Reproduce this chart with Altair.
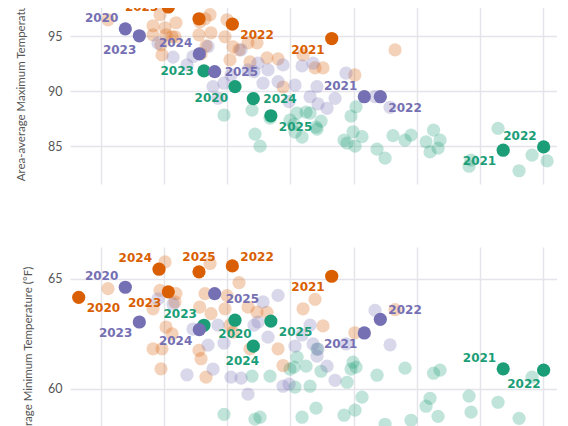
import altair as alt
import pandas as pd

# ---------------- data ----------------
groups = ["Green", "Orange", "Purple"]
colors = ["#1b9e77", "#d95f02", "#7570b3"]
years = [2020, 2021, 2022, 2023, 2024, 2025]

# highlighted years (2020..2025)
orange_x = [-0.353, 3.654, 2.08, 1.066, 0.919, 1.552]
orange_tmax = [99.4, 94.78, 96.09, 97.64, 98.9, 96.57]
orange_tmin = [64.16, 65.12, 65.59, 64.41, 65.44, 65.32]

purple_x = [0.385, 4.17, 4.424, 0.607, 1.557, 1.80]
purple_tmax = [95.66, 89.51, 89.51, 95.03, 93.39, 91.78]
purple_tmin = [64.62, 62.54, 63.16, 63.04, 62.69, 64.33]

green_x = [2.122, 6.37, 7.01, 1.63, 2.412, 2.69]
green_tmax = [90.42, 84.66, 84.96, 91.85, 89.33, 87.78]
green_tmin = [63.12, 60.91, 60.85, 62.89, 61.94, 63.08]

# other years (faded)
orange_fx = [0.111, 0.824, 0.824, 0.935, 0.95, 0.966, 1.014, 1.03, 1.125, 1.172,
             1.188, 1.552, 1.584, 1.647, 1.663, 1.562, 1.742, 1.727, 1.996, 1.964,
             2.043, 2.091, 2.186, 2.328, 2.471, 2.36, 2.629, 2.804, 2.883, 3.2,
             3.39, 3.516, 4.02, 4.657]
orange_fmax = [96.48, 95.94, 95.12, 96.94, 94.21, 93.3, 95.75, 95.12, 94.94, 94.94,
               96.21, 95.12, 93.39, 96.57, 94.12, 96.3, 95.3, 96.94, 96.48, 94.94,
               92.85, 94.03, 93.75, 94.39, 94.39, 92.66, 93.03, 92.94, 90.39, 93.3,
               92.12, 92.12, 91.48, 93.75]
orange_fmin = [64.56, 63.64, 61.82, 64.48, 60.91, 61.82, 65.77, 62.81, 62.5, 63.95,
               64.33, 61.75, 61.37, 64.33, 60.53, 63.72, 63.42, 65.7, 64.24, 63.64,
               62.9, 62.58, 64.83, 63.72, 63.49, 61.82, 63.48, 61.82, 61.06, 63.64,
               64.07, 62.86, 62.55, 63.6]

purple_fx = [0.903, 1.141, 1.362, 1.457, 1.695, 1.774, 1.853, 1.948, 2.059, 2.218,
             2.328, 2.423, 2.487, 2.566, 2.645, 2.804, 2.883, 2.978, 3.073, 3.184,
             3.311, 3.358, 3.421, 3.437, 3.58, 3.707, 3.881, 4.34, 4.578]
purple_fmax = [94.36, 93.09, 92.39, 93.15, 94.06, 90.42, 89.37, 90.73, 91.48, 93.76,
               91.94, 91.78, 92.55, 90.73, 91.94, 90.87, 92.39, 89.06, 90.57, 92.3,
               89.51, 92.55, 90.42, 88.85, 88.46, 89.36, 91.64, 89.51, 88.55]
purple_fmin = [64.09, 63.86, 60.64, 62.72, 61.99, 60.9, 62.9, 62.08, 60.53, 60.49,
               59.76, 62.9, 63.04, 63.95, 62.35, 64.25, 60.12, 60.21, 61.94, 62.45,
               62.9, 62.04, 61.49, 61.81, 61.03, 60.39, 62.04, 63.57, 62.0]

green_fx = [1.948, 2.392, 2.439, 2.519, 2.677, 2.994, 3.057, 3.073, 3.105, 3.184,
            3.247, 3.311, 3.406, 3.421, 3.485, 3.849, 3.897, 3.96, 3.992, 4.039,
            4.023, 4.134, 4.372, 4.499, 4.625, 4.815, 4.91, 5.148, 5.211, 5.267,
            5.338, 5.37, 5.829, 5.861, 6.288, 6.621, 6.827, 7.065]
green_fmax = [87.85, 88.3, 86.12, 85.03, 87.57, 87.39, 87.03, 86.3, 88.03, 85.85,
              88.12, 88.03, 86.76, 86.57, 87.3, 85.57, 85.3, 87.76, 86.33, 88.6,
              85.03, 85.89, 84.76, 83.94, 85.98, 85.57, 86.03, 85.42, 84.51, 86.48,
              84.85, 85.57, 83.21, 83.76, 86.64, 82.8, 84.21, 83.69]
green_fmin = [58.84, 60.58, 58.62, 58.71, 60.58, 60.9, 60.99, 60.08, 61.44, 58.71,
              61.03, 60.12, 59.12, 61.81, 60.8, 58.8, 60.3, 60.9, 61.21, 60.99,
              59.03, 59.62, 60.62, 58.39, 57.5, 60.94, 58.57, 59.21, 59.57, 60.71,
              58.75, 60.85, 59.67, 58.94, 59.39, 58.66, 60.53, 57.5]

top_ticks = [85, 90, 95, 100]
bottom_ticks = [55, 60, 65]

# label placement codes per highlighted year (2020..2025)
top_place = {
    "Orange": ["A", "BL", "BR", "L", "A", "A"],
    "Purple": ["UL", "UL", "BR", "BL2", "UL", "R"],
    "Green": ["BL", "BL", "UL", "L", "R", "BR"],
}
bottom_place = {
    "Orange": ["BR", "BL", "UR", "BL", "UL", "A"],
    "Purple": ["UL", "BL", "UR", "BL", "BL", "RB"],
    "Green": ["B", "UL", "BL2", "UL", "BW", "BR"],
}

# ---------------- styles ----------------
offsets = {
    "L": ("right", -10, 0),
    "R": ("left", 10, 0),
    "A": ("center", 0, -15),
    "B": ("center", 0, 14),
    "BW": ("center", -11, 15),
    "UL": ("right", -7, -11),
    "UR": ("left", 8, -9),
    "BL": ("right", -7, 11),
    "BL2": ("right", -3, 14),
    "BR": ("left", 8, 11),
    "RB": ("left", 11, 5),
}

hl = {
    "Orange": (orange_x, orange_tmax, orange_tmin),
    "Purple": (purple_x, purple_tmax, purple_tmin),
    "Green": (green_x, green_tmax, green_tmin),
}
fd = {
    "Orange": (orange_fx, orange_fmax, orange_fmin),
    "Purple": (purple_fx, purple_fmax, purple_fmin),
    "Green": (green_fx, green_fmax, green_fmin),
}

rows = []
for g in groups:
    fx, fmax, fmin = fd[g]
    for a, b, c in zip(fx, fmax, fmin):
        rows.append(dict(group=g, kind="faded", year="", x=a, tmax=b, tmin=c,
                         ptop="", pbot=""))
for g in groups:
    hx, hmax, hmin = hl[g]
    for i, yr in enumerate(years):
        rows.append(dict(group=g, kind="hl", year=str(yr), x=hx[i], tmax=hmax[i],
                         tmin=hmin[i], ptop=top_place[g][i], pbot=bottom_place[g][i]))
df = pd.DataFrame(rows)

GRID = "#e4e4ea"
color = alt.Color("group:N", scale=alt.Scale(domain=groups, range=colors), legend=None)
xenc = alt.X("x:Q", scale=alt.Scale(domain=[-0.491, 7.222], nice=False, zero=False),
             axis=alt.Axis(values=list(range(8)), labels=False, ticks=False, domain=False,
                           title=None, grid=True, gridColor=GRID, gridWidth=1.5))


def panel(field, domain, height, title, pcol, ticks):
    yenc = alt.Y(f"{field}:Q", scale=alt.Scale(domain=domain, nice=False, zero=False),
                 axis=alt.Axis(title=title, values=ticks, ticks=False, domain=False,
                               grid=True, gridColor=GRID, gridWidth=1.5,
                               labelFont="Lato", labelFontSize=12.5, labelColor="#555",
                               labelPadding=8, titleFont="Lato", titleFontSize=11.5,
                               titleFontWeight="normal", titleColor="#555",
                               titlePadding=14))
    base = alt.Chart(df)
    faded = base.transform_filter("datum.kind == 'faded'").mark_circle(
        size=175, opacity=0.28).encode(x=xenc, y=yenc, color=color)
    high = base.transform_filter("datum.kind == 'hl'").mark_circle(
        size=175, opacity=1).encode(x=xenc, y=yenc, color=color)
    texts = []
    for code, (al, dx, dy) in offsets.items():
        texts.append(
            base.transform_filter(f"datum.kind == 'hl' && datum.{pcol} == '{code}'")
            .mark_text(align=al, dx=dx, dy=dy, baseline="middle", font="DejaVu Sans",
                       fontWeight="bold", fontSize=12)
            .encode(x=xenc, y=yenc, color=color, text="year:N")
        )
    return alt.layer(faded, high, *texts).properties(width=487, height=height)


top = panel("tmax", [81.6, 100.9], 213, "Area-average Maximum Temperature (°F)", "ptop",
            top_ticks)
bottom = panel("tmin", [55.4, 66.45], 243, "Area-average Minimum Temperature (°F)", "pbot",
               bottom_ticks)

chart = alt.vconcat(top, bottom, spacing=63).properties(
    padding={"left": 7, "top": -42, "right": 0, "bottom": 0}
).configure_view(stroke=None)

chart.save("out.html", embed_options={"renderer": "svg", "actions": False})
